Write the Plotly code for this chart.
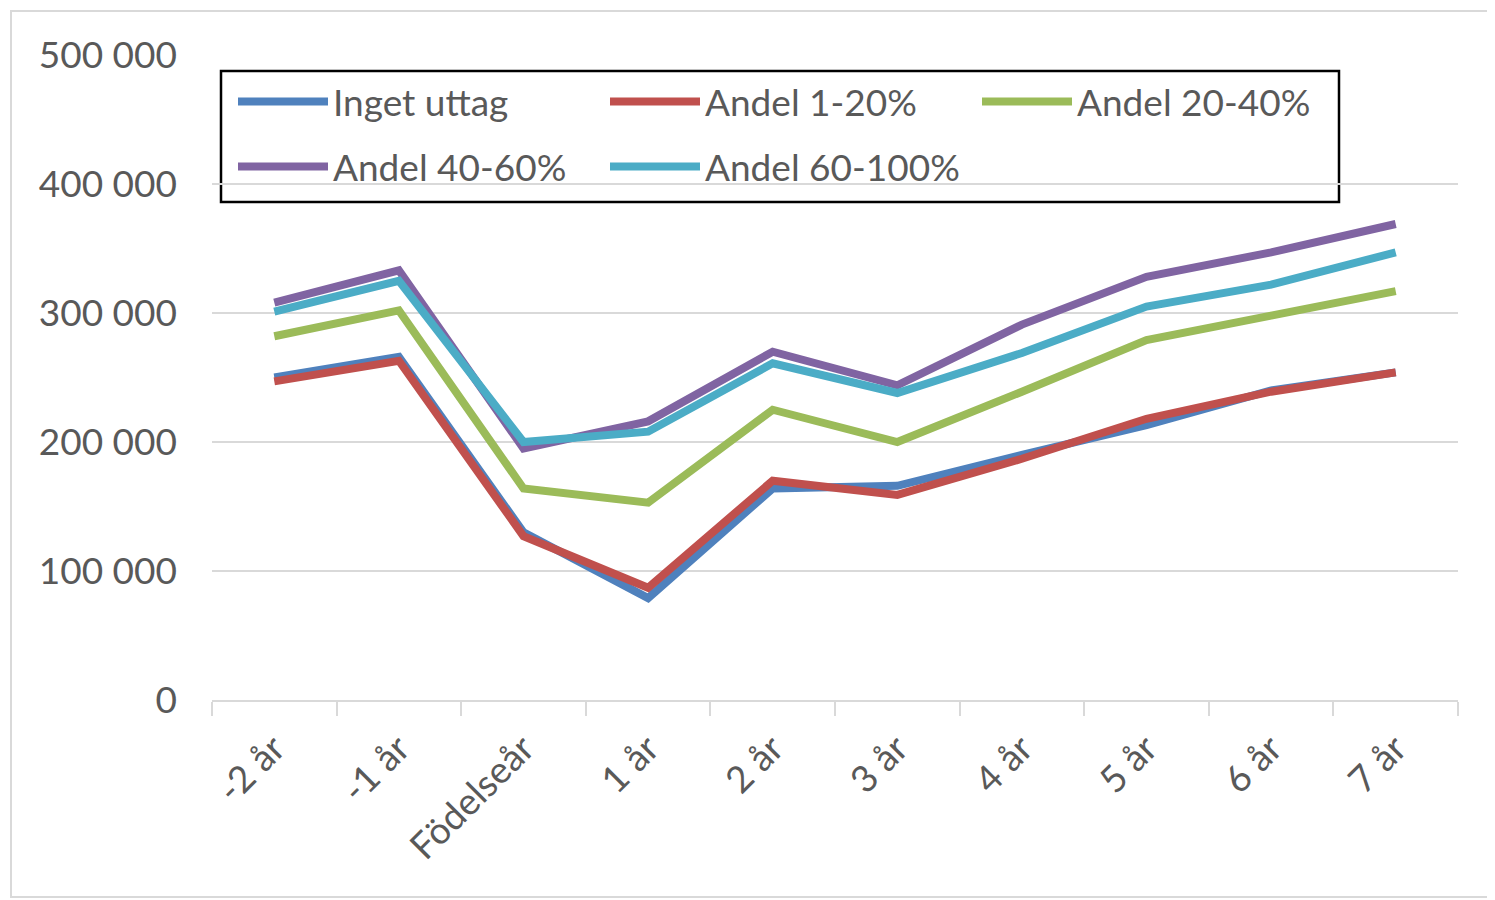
import plotly.graph_objects as go

categories = ["-2 år", "-1 år", "Födelseår", "1 år", "2 år", "3 år", "4 år", "5 år", "6 år", "7 år"]

inget_uttag = [250000, 266000, 130000, 79000, 164000, 166000, 190000, 213000, 240000, 254000]
andel_1_20 = [247000, 263000, 127000, 87000, 170000, 159000, 187000, 218000, 239000, 254000]
andel_20_40 = [282000, 302000, 164000, 153000, 225000, 200000, 239000, 279000, 298000, 317000]
andel_40_60 = [308000, 333000, 195000, 216000, 270000, 244000, 291000, 328000, 347000, 369000]
andel_60_100 = [301000, 325000, 200000, 208000, 261000, 238000, 269000, 305000, 322000, 347000]

series_names = ["Inget uttag", "Andel 1-20%", "Andel 20-40%", "Andel 40-60%", "Andel 60-100%"]
series_values = [inget_uttag, andel_1_20, andel_20_40, andel_40_60, andel_60_100]
colors = ["#4F81BD", "#C0504D", "#9BBB59", "#8064A2", "#4BACC6"]
legend_rows = ["legend", "legend", "legend", "legend2", "legend2"]

y_ticks = [0, 100000, 200000, 300000, 400000, 500000]

O = 8  # page body margin
W, H = 1495 - O, 900 - O
PL, PR, PT, PB = 212 - O, 1458 - O, 55 - O, 700 - O
L, R, T, B = PL, W - PR, PT, H - PB

fig = go.Figure()
for name, vals, col, lg in zip(series_names, series_values, colors, legend_rows):
    fig.add_trace(go.Scatter(
        x=categories, y=vals, name=name, mode="lines",
        line=dict(color=col, width=8), legend=lg,
    ))

pw = PR - PL
ph = PB - PT

def px_x(p):
    return (p - O - PL) / pw

def px_y(p):
    return (PB - (p - O)) / ph

# outer chart border
fig.add_shape(type="rect", xref="paper", yref="paper",
              x0=px_x(11), x1=px_x(1520), y0=px_y(897), y1=px_y(11),
              line=dict(color="#D9D9D9", width=2), layer="below")
# legend border
fig.add_shape(type="rect", xref="paper", yref="paper",
              x0=px_x(221), x1=px_x(1339), y0=px_y(202), y1=px_y(71),
              line=dict(color="black", width=2.5), fillcolor="white", layer="below")

IW = 90
leg_common = dict(
    orientation="h", xanchor="left", yanchor="middle",
    borderwidth=0, bgcolor="rgba(0,0,0,0)",
    entrywidth=372 - IW - 15, entrywidthmode="pixels",
    font=dict(size=37, color="#595959"),
    itemwidth=IW,
)

fig.update_layout(
    width=W, height=H,
    margin=dict(l=L, r=R, t=T, b=B),
    paper_bgcolor="white", plot_bgcolor="white",
    separators=". ",
    font=dict(family="Lato, 'Open Sans', sans-serif", size=37, color="#595959"),
    showlegend=True,
    legend=dict(x=px_x(233), y=px_y(102), **leg_common),
    legend2=dict(x=px_x(233), y=px_y(167), **leg_common),
    xaxis=dict(
        type="category", range=[-0.5, 9.5],
        tickson="boundaries", ticks="outside", ticklen=14, tickwidth=2,
        tickcolor="#D9D9D9", showline=True, linecolor="#D9D9D9", linewidth=2,
        showgrid=False, tickangle=-45, ticklabelstandoff=10,
        tickfont=dict(size=37, color="#595959"),
    ),
    yaxis=dict(
        range=[0, 500000], tickvals=y_ticks, tickformat=",d",
        showgrid=True, gridcolor="#D9D9D9", gridwidth=2,
        zeroline=False, showline=False, ticks="",
        ticklabelstandoff=34,
        tickfont=dict(size=37, color="#595959"),
    ),
)

fig.write_html("out.html")
